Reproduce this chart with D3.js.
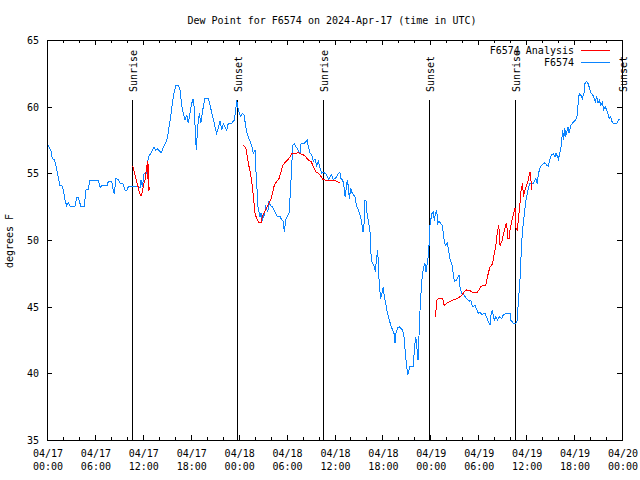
<!DOCTYPE html>
<html><head><meta charset="utf-8">
<script src="https://cdn.jsdelivr.net/npm/d3@7"></script>
<style>body{margin:0;background:#fff}svg{display:block}text{font-family:"DejaVu Sans Mono","Liberation Mono",monospace;font-size:10px;fill:#000}</style>
</head><body><div id="chart"></div>
<script>
const title = "Dew Point for F6574 on 2024-Apr-17 (time in UTC)";
const yLabel = "degrees F";
const startTime = "2024-04-17T00:00:00Z";
const endTime = "2024-04-20T00:00:00Z";
const yTicks = [35, 40, 45, 50, 55, 60, 65];
const seriesNames = ["F6574 Analysis", "F6574"];
const seriesColors = ["#ff0000", "#0a84ff"];
// hours after start, dew point values
const obsHours = [0.16,0.50,0.66,0.91,1.13,1.34,1.63,1.84,2.04,2.25,2.47,2.67,2.88,3.51,3.72,3.92,4.22,4.67,4.88,5.17,5.38,6.42,6.64,6.92,7.55,7.68,8.10,8.30,8.43,8.64,8.93,9.14,9.52,9.77,10.02,10.18,10.68,11.43,11.65,11.77,11.96,12.15,12.48,12.56,12.77,13.02,13.19,13.40,13.61,13.81,14.02,14.28,14.44,14.69,14.86,15.11,15.28,15.49,15.69,15.90,16.15,16.44,16.65,16.87,17.07,17.28,17.49,17.69,17.91,18.12,18.32,18.45,18.62,18.70,18.87,19.07,19.25,19.57,19.78,20.20,20.41,20.82,21.04,21.25,21.45,21.66,21.88,22.08,22.50,22.70,23.13,23.45,23.63,23.75,23.88,24.04,24.26,24.46,24.67,24.79,25.01,25.21,25.42,25.63,25.83,26.05,26.13,26.26,26.38,26.55,26.67,26.80,26.96,27.21,27.39,27.64,27.80,27.96,28.21,28.43,28.84,29.18,29.39,29.59,29.71,29.89,30.30,30.47,30.64,30.77,30.97,31.18,31.68,31.81,32.22,32.60,32.72,32.93,33.15,33.35,33.56,33.77,33.97,34.19,34.40,34.60,35.02,35.23,35.65,35.85,36.28,36.48,36.69,36.82,37.03,37.19,37.32,37.44,37.61,37.73,37.86,38.03,38.15,38.36,38.57,38.78,38.98,39.19,39.32,39.57,39.70,39.82,39.95,40.11,40.23,40.45,40.53,40.66,40.99,41.11,41.29,41.41,41.61,41.79,42.11,42.24,42.45,42.61,43.04,43.45,43.58,43.70,43.91,44.12,44.54,44.70,44.87,45.04,45.17,45.33,45.45,45.87,45.99,46.17,46.29,46.46,46.71,46.83,47.00,47.17,47.33,47.46,47.80,47.92,48.05,48.21,48.37,48.50,48.63,48.80,48.93,49.09,49.50,49.71,49.88,50.13,50.46,50.63,50.75,50.88,51.00,51.30,51.59,51.71,51.93,52.13,52.34,52.88,53.06,53.26,53.60,54.01,54.22,54.43,54.85,55.19,55.47,55.60,55.76,56.01,56.22,56.39,56.60,56.94,57.14,57.56,57.98,58.06,58.23,58.39,58.73,58.89,59.02,59.14,59.27,59.39,59.52,59.64,59.86,59.98,60.14,60.32,60.48,60.90,61.11,61.23,61.40,61.52,61.65,61.82,62.07,62.36,62.57,62.77,62.99,63.20,63.40,63.61,63.74,64.03,64.33,64.45,64.58,64.70,64.83,64.95,65.24,65.37,65.58,65.78,65.99,66.20,66.41,66.53,66.66,66.83,67.03,67.24,67.37,67.58,67.78,68.12,68.33,68.66,68.83,69.00,69.16,69.34,69.54,69.71,69.88,70.09,70.42,70.59,70.72,70.93,71.35,71.55,71.77];
const obsValues = [57.1,56.7,56.1,56.05,55.55,54.9,54.05,54.1,53.75,53.0,52.55,52.8,52.55,52.55,53.2,53.2,52.55,52.55,53.75,53.8,54.5,54.5,53.95,54.1,54.1,54.4,54.4,53.75,53.45,54.65,54.5,54.25,54.2,53.75,53.75,54.0,54.0,54.0,53.9,54.5,54.0,55.0,55.0,55.75,56.3,56.5,56.75,57.0,56.75,56.85,56.7,56.55,56.75,57.1,57.25,57.75,58.5,59.25,60.25,61.0,61.6,61.6,61.25,60.1,59.5,59.0,59.4,58.75,59.5,60.25,60.6,59.75,57.5,56.75,58.5,59.5,58.75,60.0,60.6,60.6,60.1,59.1,58.5,58.0,58.4,58.9,58.25,58.75,58.25,58.75,58.75,59.0,59.75,60.5,60.0,59.6,59.25,59.5,59.4,58.9,58.1,57.75,57.4,57.1,56.5,56.75,55.5,54.4,52.6,52.1,51.75,52.0,51.5,51.9,52.5,52.1,52.9,52.6,52.5,52.25,51.75,51.75,51.5,51.4,50.6,51.5,52.0,53.5,55.5,57.1,57.25,57.0,56.5,57.25,57.25,57.5,57.0,56.5,56.4,55.9,56.1,55.6,55.9,55.4,55.0,55.1,54.9,54.55,54.9,54.5,54.75,55.0,55.05,54.6,54.5,54.0,53.25,53.75,54.5,54.0,53.1,53.9,53.6,53.4,53.25,52.5,52.25,51.9,51.6,50.6,51.25,53.0,52.9,51.75,51.5,50.6,49.25,48.4,48.0,47.6,48.75,49.25,46.6,45.6,46.5,45.75,45.1,44.6,43.6,43.0,42.25,43.0,43.4,43.5,43.25,42.75,41.5,40.5,39.9,40.25,40.5,40.5,41.75,42.75,42.1,41.0,44.75,46.0,47.4,48.0,48.25,47.6,49.0,51.0,51.5,52.0,52.1,51.4,52.0,52.25,51.25,51.4,51.1,50.1,49.6,49.75,48.6,48.25,48.1,47.4,46.9,47.0,47.4,46.5,46.0,45.95,45.75,45.4,45.5,45.0,45.1,44.5,44.6,44.4,44.5,44.0,43.6,44.4,44.75,44.0,44.25,44.0,44.25,44.1,44.4,44.5,44.5,44.0,43.9,43.75,43.75,44.0,45.4,46.25,47.5,49.25,50.5,51.25,52.4,53.0,53.5,54.0,54.25,54.25,54.5,54.6,54.2,54.9,55.25,55.5,55.7,55.8,55.6,55.55,56.1,56.4,56.45,56.25,56.55,56.05,56.8,57.5,58.25,57.5,58.4,57.75,58.5,58.0,58.6,58.75,58.9,59.0,59.4,60.5,61.0,60.9,60.6,61.0,61.75,61.9,61.7,61.0,60.9,60.4,60.8,60.25,60.5,60.1,60.3,59.8,60.0,59.75,59.1,59.25,58.9,58.75,58.75,59.0,59.1];
// analysis series: null marks a gap between runs
const anaHours = [10.73,10.93,11.14,11.36,11.56,11.77,11.93,12.15,12.27,12.43,12.52,12.58,12.64,12.75,12.85,null,
 24.58,24.88,25.08,25.30,25.51,25.71,25.88,26.05,26.26,26.55,26.80,26.96,27.21,27.51,27.80,28.05,28.26,28.46,28.76,29.05,29.30,29.51,29.80,30.14,30.43,30.64,31.05,31.47,31.81,32.09,32.39,32.72,33.06,33.35,33.68,33.97,34.27,34.56,34.81,36.06,36.28,36.69,null,
 48.63,48.71,48.80,49.00,49.55,49.71,50.05,50.46,50.88,51.30,51.71,52.00,52.22,52.55,52.97,53.38,53.81,54.10,54.31,54.64,54.93,55.06,55.26,55.47,55.69,55.89,56.01,56.19,56.31,56.44,56.56,56.64,56.73,56.85,57.02,57.14,57.27,57.44,57.56,57.69,57.85,57.98,58.19,58.32,58.48,58.61,58.73,58.89,59.02,59.14,59.27,59.39,59.57,59.64,59.98,60.14,60.32,60.39,60.48,60.61,60.73];
const anaValues = [55.55,55.1,54.6,54.1,53.6,53.3,53.6,54.25,54.5,55.25,55.6,54.6,55.9,53.7,54.0,null,
 57.1,56.95,56.25,55.5,54.9,54.0,53.0,52.0,51.6,51.3,51.3,51.75,52.1,52.4,52.75,53.1,53.6,54.1,54.4,54.6,55.1,55.6,55.8,56.0,56.25,56.5,56.5,56.55,56.45,56.4,56.25,56.0,55.9,55.5,55.1,55.0,54.8,54.55,54.5,54.5,54.4,54.3,null,
 44.25,44.75,45.5,45.6,45.6,45.1,45.25,45.4,45.5,45.6,45.75,45.9,46.1,46.25,46.2,46.05,46.05,46.25,46.5,46.6,46.6,47.0,47.5,48.0,48.1,48.5,49.0,49.5,50.25,50.75,51.1,50.5,49.6,49.75,50.0,50.4,50.75,51.1,51.3,50.1,50.1,50.75,51.4,51.75,52.1,52.4,50.9,50.75,51.5,52.25,53.0,53.9,54.25,53.25,54.0,54.25,54.6,55.0,55.1,54.4,53.75];
const sunEvents = ["Sunrise","Sunset","Sunrise","Sunset","Sunrise","Sunset"];
const sunHours = [10.68,23.85,34.61,47.87,58.64,71.94];

const W = 640, H = 480;
const M = {left:47, right:622, top:40, bottom:440};
const t0 = new Date(startTime), t1 = new Date(endTime);
const toDate = h => new Date(t0.getTime() + h*3600e3);
const x = d3.scaleUtc().domain([t0,t1]).range([M.left,M.right]);
const y = d3.scaleLinear().domain([35,65]).range([M.bottom,M.top]);

const svg = d3.select("#chart").append("svg").attr("width",W).attr("height",H);
svg.append("text").attr("x",332).attr("y",24).attr("text-anchor","middle").text(title);
svg.append("text").attr("transform","translate(13,241) rotate(-90)").attr("text-anchor","middle").text(yLabel);

const g = svg.append("g").attr("shape-rendering","crispEdges");
const majorT = d3.utcHour.every(6).range(t0, new Date(t1.getTime()+1));
const minorT = d3.utcHour.every(2).range(t0, new Date(t1.getTime()+1));

// minor/major x ticks bottom & top
minorT.forEach(t=>{
  const major = t.getUTCHours()%6===0;
  const L = major?5:3;
  const xx = Math.round(x(t))+0.5;
  g.append("line").attr("x1",xx).attr("x2",xx).attr("y1",M.bottom).attr("y2",M.bottom-L).attr("stroke","#000");
  g.append("line").attr("x1",xx).attr("x2",xx).attr("y1",M.top).attr("y2",M.top+L).attr("stroke","#000");
});
const fmtD = d3.utcFormat("%m/%d"), fmtT = d3.utcFormat("%H:%M");
majorT.forEach(t=>{
  const tx = svg.append("text").attr("text-anchor","middle").attr("x",x(t)+1);
  tx.append("tspan").attr("x",x(t)+1).attr("y",457).text(fmtD(t));
  tx.append("tspan").attr("x",x(t)+1).attr("y",470).text(fmtT(t));
});
yTicks.forEach(v=>{
  const yy = Math.round(y(v))+0.5;
  g.append("line").attr("x1",M.left).attr("x2",M.left+5).attr("y1",yy).attr("y2",yy).attr("stroke","#000");
  g.append("line").attr("x1",M.right).attr("x2",M.right-5).attr("y1",yy).attr("y2",yy).attr("stroke","#000");
  svg.append("text").attr("x",39).attr("y",y(v)+4).attr("text-anchor","end").text(v);
});

// sun lines
sunHours.forEach((h,i)=>{
  const xx = Math.round(x(toDate(h)))+0.5;
  g.append("line").attr("x1",xx).attr("x2",xx).attr("y1",100).attr("y2",M.bottom).attr("stroke","#000");
  svg.append("text").attr("transform",`translate(${xx+4},92) rotate(-90)`).attr("text-anchor","start").text(sunEvents[i]);
});

// series
const line = d3.line().defined(d=>d[0]!=null && d[1]!=null).x(d=>x(toDate(d[0]))).y(d=>y(d[1]));
const obs = obsHours.map((h,i)=>[h,obsValues[i]]);
const ana = anaHours.map((h,i)=>[h,anaValues[i]]);
g.append("path").datum(obs).attr("d",line).attr("fill","none").attr("stroke",seriesColors[1]).attr("stroke-width",1);
g.append("path").datum(ana).attr("d",line).attr("fill","none").attr("stroke",seriesColors[0]).attr("stroke-width",1);

// frame
g.append("rect").attr("x",M.left+0.5).attr("y",M.top+0.5).attr("width",M.right-M.left).attr("height",M.bottom-M.top).attr("fill","none").attr("stroke","#000");

// legend
seriesNames.forEach((n,i)=>{
  const ly = 49.5 + i*12;
  svg.append("text").attr("x",574).attr("y",ly+4).attr("text-anchor","end").text(n);
  g.append("line").attr("x1",581).attr("x2",610).attr("y1",Math.round(ly)+0.5).attr("y2",Math.round(ly)+0.5).attr("stroke",seriesColors[i]);
});
</script></body></html>
